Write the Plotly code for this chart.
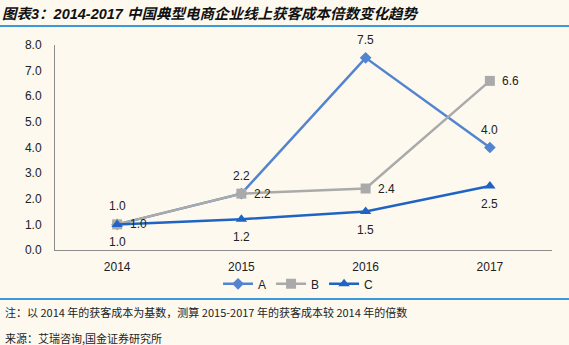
import plotly.graph_objects as go

# Data: acquisition cost multiples relative to 2014
years = ["2014", "2015", "2016", "2017"]
series_a = [1.0, 2.2, 7.5, 4.0]
series_b = [1.0, 2.2, 2.4, 6.6]
series_c = [1.0, 1.2, 1.5, 2.5]
y_ticks = [0, 1, 2, 3, 4, 5, 6, 7, 8]

title_text = "图表3：2014-2017 中国典型电商企业线上获客成本倍数变化趋势"
note_text = "注：以 2014 年的获客成本为基数，测算 2015-2017 年的获客成本较 2014 年的倍数"
source_text = "来源：艾瑞咨询,国金证券研究所"

BG = "#FDF9EF"
FONT = "Liberation Sans, Arial, Noto Sans CJK SC, sans-serif"
CJK = "Noto Sans CJK SC, Liberation Sans, sans-serif"
RULE = "#3A9AD9"

# (name, values, colour, marker symbol, marker size, label offset x, label offset y)
series = [
    ("A", series_a, "#5384D0", "diamond", 9, 0, 18),
    ("B", series_b, "#AAAAAA", "square", 10, 21, 0),
    ("C", series_c, "#1F63C4", "triangle-up", 10, 0, -18),
]

fig = go.Figure()
for name, vals, color, symbol, msize, dx, dy in series:
    fig.add_trace(go.Scatter(
        x=years, y=vals, name=name, mode="lines+markers",
        line=dict(color=color, width=2.5),
        marker=dict(symbol=symbol, size=msize, color=color),
        cliponaxis=False,
    ))
    # value labels placed next to each point (category index on the x axis)
    for i, v in enumerate(vals):
        fig.add_annotation(
            x=i, y=v, xref="x", yref="y", text=f"{v:.1f}", showarrow=False,
            xshift=dx, yshift=dy, xanchor="center", yanchor="middle",
            font=dict(family=FONT, size=12, color="#222222"),
        )

fig.update_layout(
    width=569, height=345,
    margin=dict(l=55, r=17, t=45, b=95),
    paper_bgcolor=BG, plot_bgcolor=BG,
    font=dict(family=FONT, size=12, color="#222222"),
    showlegend=True,
    legend=dict(
        orientation="h", x=0.49, xanchor="center", y=-0.165, yanchor="middle",
        bgcolor="rgba(0,0,0,0)", itemwidth=30,
        font=dict(family=FONT, size=12, color="#222222"),
        tracegroupgap=0,
    ),
    xaxis=dict(
        type="category", range=[-0.5, 3.5], showgrid=False, zeroline=False,
        showline=True, linecolor="#8C8C8C", linewidth=1,
        ticks="", ticklabelstandoff=6,
        tickfont=dict(family=FONT, size=12, color="#222222"),
    ),
    yaxis=dict(
        range=[0, 8], tickvals=y_ticks, tickformat=".1f",
        showgrid=False, zeroline=False,
        showline=True, linecolor="#8C8C8C", linewidth=1,
        ticks="", ticklabelstandoff=10,
        tickfont=dict(family=FONT, size=12, color="#222222"),
    ),
)

# Title and horizontal rules framing the chart
fig.add_annotation(
    xref="paper", yref="paper", x=-55 / 497, y=1 + 31 / 205,
    xanchor="left", yanchor="middle", showarrow=False,
    text=f"<b><i>{title_text}</i></b>",
    font=dict(family="Liberation Sans, Noto Sans CJK SC, sans-serif", size=14.5, color="#111111"),
)
fig.add_shape(type="line", xref="paper", yref="paper",
              x0=-55 / 497, x1=1 + 17 / 497, y0=1 + 19 / 205, y1=1 + 19 / 205,
              line=dict(color=RULE, width=2))
fig.add_shape(type="line", xref="paper", yref="paper",
              x0=-55 / 497, x1=1 + 17 / 497, y0=-49 / 205, y1=-49 / 205,
              line=dict(color=RULE, width=2))

fig.add_annotation(
    xref="paper", yref="paper", x=-52 / 497, y=-62 / 205,
    xanchor="left", yanchor="middle", showarrow=False,
    text=note_text, font=dict(family=CJK, size=11, color="#222222"),
)
fig.add_annotation(
    xref="paper", yref="paper", x=-52 / 497, y=-88 / 205,
    xanchor="left", yanchor="middle", showarrow=False,
    text=source_text, font=dict(family=CJK, size=11, color="#222222"),
)

fig.write_html("out.html")
